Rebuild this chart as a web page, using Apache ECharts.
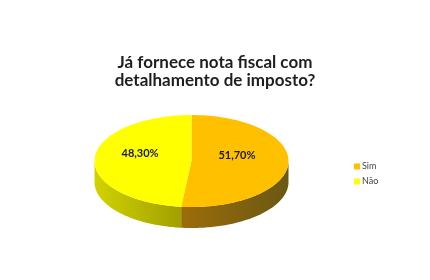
<!DOCTYPE html>
<html><head><meta charset="utf-8">
<script src="https://cdn.jsdelivr.net/npm/echarts@6/dist/echarts.min.js"></script>
<style>html,body{margin:0;padding:0;background:#fff}#c{width:430px;height:280px}</style>
</head><body><div id="c"></div>
<script>
var categories = ['Sim', 'Não'];
var values = [51.7, 48.3];
var topColors = ['#FFC000', '#FFFF00'];
var sideColorsLeft = ['#9C6C0A', '#D2D200'];
var sideColorsRight = ['#6A5812', '#A0A000'];
var titleText = 'Já fornece nota fiscal com\ndetalhamento de imposto?';

var CX = 191.5, CY = 161, RX = 97, RY = 46, DEPTH = 21;
var total = values.reduce(function (a, b) { return a + b; }, 0);
var starts = [];
(function () { var acc = 0; for (var i = 0; i < values.length; i++) { starts.push(acc); acc += values[i]; } })();

function pt(theta, dy) {
  return [CX + RX * Math.sin(theta), CY - RY * Math.cos(theta) + (dy || 0)];
}
function fmt(v) { return v.toFixed(2).replace('.', ',') + '%'; }

function renderItem(params, api) {
  var i = params.dataIndex;
  var v = api.value(0);
  var a0 = starts[i] / total * Math.PI * 2;
  var a1 = a0 + v / total * Math.PI * 2;
  var children = [];
  var steps = 80;
  var s0 = Math.max(a0, Math.PI / 2), s1 = Math.min(a1, Math.PI * 1.5);
  if (s1 > s0) {
    var pts = [], k;
    for (k = 0; k <= steps; k++) pts.push(pt(s0 + (s1 - s0) * k / steps, 0));
    for (k = steps; k >= 0; k--) pts.push(pt(s0 + (s1 - s0) * k / steps, DEPTH));
    children.push({
      type: 'polygon', shape: { points: pts },
      style: {
        fill: new echarts.graphic.LinearGradient(0, 0, 1, 0, [
          { offset: 0, color: sideColorsLeft[i] }, { offset: 1, color: sideColorsRight[i] }
        ]),
        stroke: null
      }
    });
  }
  var tp = [[CX, CY]];
  for (var j = 0; j <= steps; j++) tp.push(pt(a0 + (a1 - a0) * j / steps, 0));
  children.push({ type: 'polygon', shape: { points: tp }, style: { fill: topColors[i], stroke: null } });
  var mid = (a0 + a1) / 2;
  var lp = [CX - 3 + RX * 0.5 * Math.sin(mid), CY - 6.5 - RY * 0.5 * Math.cos(mid)];
  children.push({
    type: 'text', x: lp[0], y: lp[1],
    style: { text: fmt(v), align: 'center', verticalAlign: 'middle',
      font: 'bold 11px Lato, "Open Sans", sans-serif', fill: '#1a1a1a' }
  });
  return { type: 'group', children: children };
}

var chart = echarts.init(document.getElementById('c'), null, { renderer: 'canvas' });
chart.setOption({
  backgroundColor: '#fff',
  animation: false,
  title: {
    text: titleText, left: 210, textAlign: 'center', top: 49,
    textStyle: { fontFamily: 'Lato, "Open Sans", sans-serif', fontSize: 17, fontWeight: 'bold', color: '#1f1f1f', lineHeight: 18 }
  },
  legend: {
    orient: 'vertical', left: 349, top: 157, icon: 'rect', itemWidth: 6, itemHeight: 6, itemGap: 6,
    data: categories,
    textStyle: { fontFamily: 'Lato, "Open Sans", sans-serif', fontSize: 9, color: '#444', padding: [0, 0, 0, -3] }
  },
  series: [
    {
      type: 'custom', coordinateSystem: 'none', renderItem: renderItem,
      data: values.map(function (v, i) { return { name: categories[i], value: [v] }; }),
      silent: true
    },
    {
      type: 'pie', radius: [0, 0], center: [-100, -100], label: { show: false }, silent: true,
      data: values.map(function (v, i) { return { name: categories[i], value: v, itemStyle: { color: topColors[i] } }; })
    }
  ]
});
</script></body></html>
